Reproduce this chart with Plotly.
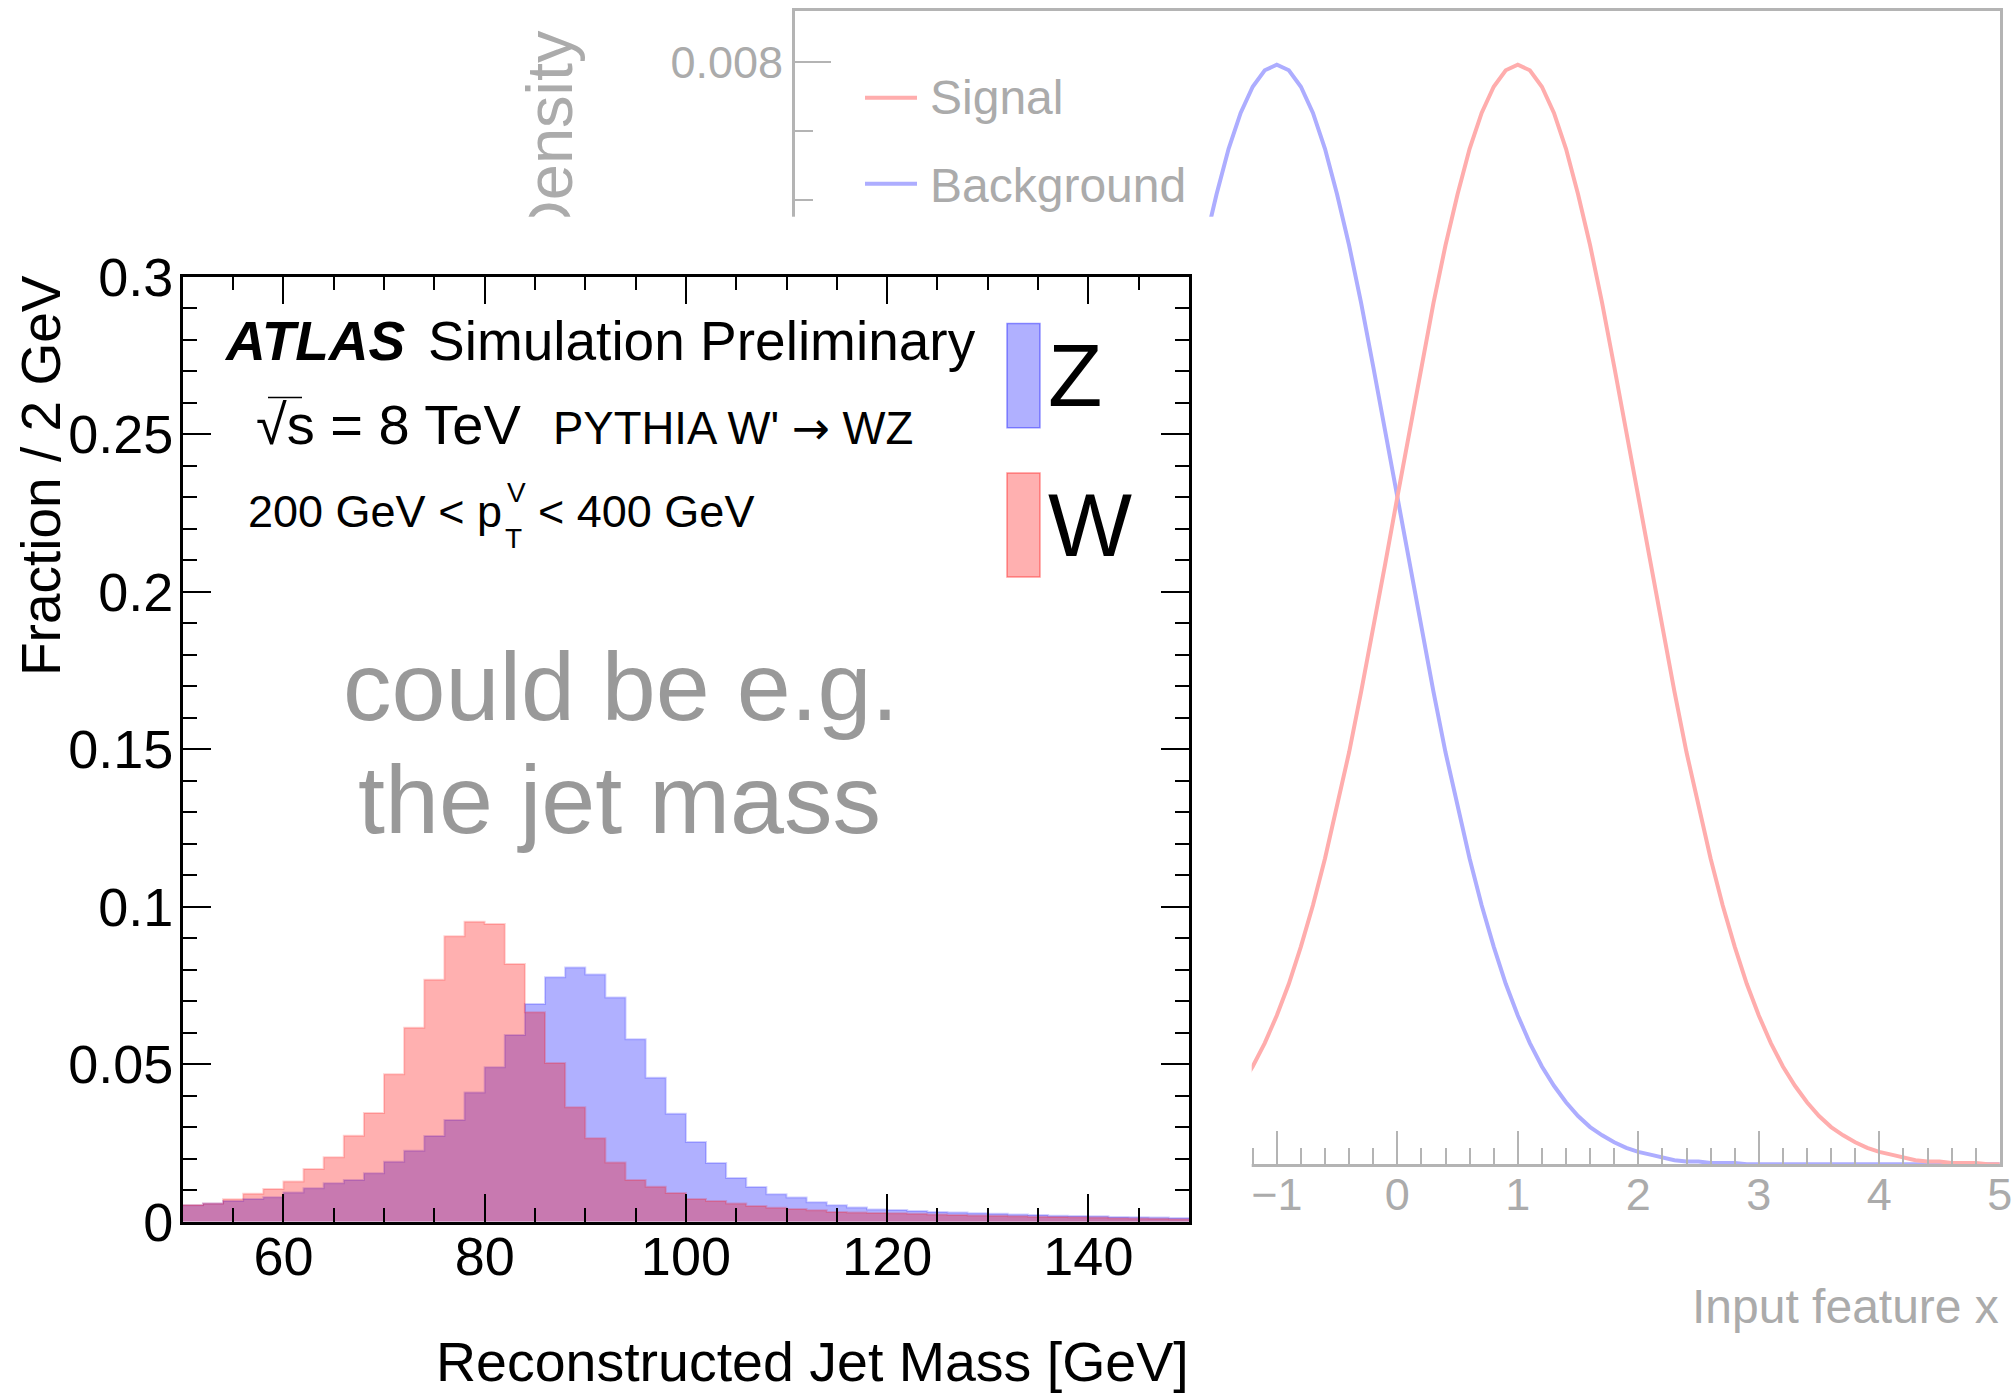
import plotly.graph_objects as go

W_PX, H_PX = 2014, 1393
FONT = "Liberation Sans, Arial, Helvetica, sans-serif"
GRAY_TXT = "#ababab"
GRAY_AX = "#b4b4b4"

# ---------------- left chart data: jet mass, 2 GeV bins from 50 to 150 ----------------
mass_bin_edges = list(range(50, 152, 2))
frac_W = [0.0053, 0.0058, 0.0071, 0.0089, 0.0104, 0.0128, 0.0167, 0.0205, 0.0273, 0.0345,
          0.0468, 0.0616, 0.0768, 0.0906, 0.0952, 0.0945, 0.0818, 0.0665, 0.0504, 0.0363,
          0.0265, 0.0188, 0.0132, 0.0111, 0.0091, 0.0072, 0.0066, 0.0058, 0.0050, 0.0044,
          0.0040, 0.0036, 0.0031, 0.0029, 0.0028, 0.0027, 0.0025, 0.0023, 0.0021, 0.0020,
          0.0019, 0.0017, 0.0016, 0.0015, 0.0014, 0.0013, 0.0011, 0.0010, 0.0009, 0.0008]
frac_Z = [0.0052, 0.0058, 0.0066, 0.0072, 0.0078, 0.0093, 0.0106, 0.0122, 0.0132, 0.0154,
          0.0190, 0.0225, 0.0272, 0.0323, 0.0410, 0.0490, 0.0593, 0.0691, 0.0776, 0.0807,
          0.0785, 0.0712, 0.0579, 0.0457, 0.0343, 0.0253, 0.0186, 0.0139, 0.0110, 0.0087,
          0.0077, 0.0062, 0.0052, 0.0045, 0.0039, 0.0037, 0.0034, 0.0031, 0.0029, 0.0027,
          0.0025, 0.0023, 0.0021, 0.0019, 0.0018, 0.0017, 0.0015, 0.0014, 0.0013, 0.0012]

# ---------------- right (background) chart data: density vs input feature ----------------
x_feature = [-2.0, -1.9, -1.8, -1.7, -1.6, -1.5, -1.4, -1.3, -1.2, -1.1,
             -1.0, -0.9, -0.8, -0.7, -0.6, -0.5, -0.4, -0.3, -0.2, -0.1,
             0.0, 0.1, 0.2, 0.3, 0.4, 0.5, 0.6, 0.7, 0.8, 0.9,
             1.0, 1.1, 1.2, 1.3, 1.4, 1.5, 1.6, 1.7, 1.8, 1.9,
             2.0, 2.1, 2.2, 2.3, 2.4, 2.5, 2.6, 2.7, 2.8, 2.9,
             3.0, 3.1, 3.2, 3.3, 3.4, 3.5, 3.6, 3.7, 3.8, 3.9,
             4.0, 4.1, 4.2, 4.3, 4.4, 4.5, 4.6, 4.7, 4.8, 4.9, 5.0]
background_density = [0.00484, 0.00532, 0.00579, 0.00625, 0.00667, 0.00704, 0.00737, 0.00763, 0.00782, 0.00794,
                      0.00798, 0.00794, 0.00782, 0.00763, 0.00737, 0.00704, 0.00667, 0.00625, 0.00579, 0.00532,
                      0.00484, 0.00436, 0.00388, 0.00343, 0.00299, 0.00259, 0.00222, 0.00188, 0.00158, 0.00131,
                      0.00108, 0.00088, 0.00071, 0.00057, 0.00045, 0.00035, 0.00027, 0.00021, 0.00016, 0.00012,
                      0.00009, 0.00007, 0.00005, 0.00003, 0.00002, 0.00002, 0.00001, 0.00001, 0.00001, 0.0,
                      0.0, 0.0, 0.0, 0.0, 0.0, 0.0, 0.0, 0.0, 0.0, 0.0,
                      0.0, 0.0, 0.0, 0.0, 0.0, 0.0, 0.0, 0.0, 0.0, 0.0, 0.0]
signal_density = [0.00009, 0.00012, 0.00016, 0.00021, 0.00027, 0.00035, 0.00045, 0.00057, 0.00071, 0.00088,
                  0.00108, 0.00131, 0.00158, 0.00188, 0.00222, 0.00259, 0.00299, 0.00343, 0.00388, 0.00436,
                  0.00484, 0.00532, 0.00579, 0.00625, 0.00667, 0.00704, 0.00737, 0.00763, 0.00782, 0.00794,
                  0.00798, 0.00794, 0.00782, 0.00763, 0.00737, 0.00704, 0.00667, 0.00625, 0.00579, 0.00532,
                  0.00484, 0.00436, 0.00388, 0.00343, 0.00299, 0.00259, 0.00222, 0.00188, 0.00158, 0.00131,
                  0.00108, 0.00088, 0.00071, 0.00057, 0.00045, 0.00035, 0.00027, 0.00021, 0.00016, 0.00012,
                  0.00009, 0.00007, 0.00005, 0.00003, 0.00002, 0.00002, 0.00001, 0.00001, 0.00001, 0.0, 0.0]
density_title = ["Density"]


def px(x):
    return x / W_PX


def py(y):
    return 1 - y / H_PX


fig = go.Figure()

# right (faded) chart on xy
fig.add_trace(go.Scatter(x=x_feature, y=background_density, mode="lines",
                         line=dict(color="#adadff", width=4), xaxis="x", yaxis="y",
                         hoverinfo="skip", showlegend=False))
fig.add_trace(go.Scatter(x=x_feature, y=signal_density, mode="lines",
                         line=dict(color="#ffadad", width=4), xaxis="x", yaxis="y",
                         hoverinfo="skip", showlegend=False))
# helper axis carrying the right chart's y title (so the overlaid canvas can hide part of it)
fig.add_trace(go.Scatter(x=[None], y=[None], xaxis="x", yaxis="y4",
                         hoverinfo="skip", showlegend=False))

# cover subplot (white canvas of the overlaid picture)
fig.add_trace(go.Scatter(x=[None], y=[None], xaxis="x2", yaxis="y2",
                         hoverinfo="skip", showlegend=False))

# left chart histograms on x3y3
fig.add_trace(go.Scatter(x=mass_bin_edges, y=frac_Z + [frac_Z[-1]], mode="lines",
                         line=dict(shape="hv", color="rgba(0,0,255,0.18)", width=2),
                         fill="tozeroy", fillcolor="rgba(0,0,255,0.31)",
                         xaxis="x3", yaxis="y3", hoverinfo="skip", showlegend=False))
fig.add_trace(go.Scatter(x=mass_bin_edges, y=frac_W + [frac_W[-1]], mode="lines",
                         line=dict(shape="hv", color="rgba(255,0,0,0.18)", width=2),
                         fill="tozeroy", fillcolor="rgba(255,0,0,0.31)",
                         xaxis="x3", yaxis="y3", hoverinfo="skip", showlegend=False))

gray_tick = dict(family=FONT, size=45, color=GRAY_TXT)
black_tick = dict(family=FONT, size=54, color="black")

Y_TOP, Y_BOT = 11.0, 1164.3
density_pos = (Y_BOT - 148.5) / (Y_BOT - Y_TOP)

layout = dict(
    width=W_PX, height=H_PX, autosize=False,
    margin=dict(l=0, r=0, t=0, b=0, pad=0, autoexpand=False),
    paper_bgcolor="white", plot_bgcolor="white",
    showlegend=False,
    font=dict(family=FONT),
    xaxis=dict(domain=[px(794.8), px(1999.8)], range=[-5, 5], anchor="y", automargin=False,
               showline=True, linecolor=GRAY_AX, linewidth=2.5, mirror=True,
               ticks="inside", ticklen=34, tickwidth=2, tickcolor=GRAY_AX,
               tick0=0, dtick=1, showgrid=False, zeroline=False, tickfont=gray_tick,
               ticklabelstandoff=-11,
               minor=dict(dtick=0.2, ticklen=17, tickwidth=2, tickcolor=GRAY_AX,
                          ticks="inside", showgrid=False)),
    yaxis=dict(domain=[py(Y_BOT), py(Y_TOP)], range=[0, 0.00837], anchor="x", automargin=False,
               showline=True, linecolor=GRAY_AX, linewidth=2.5, mirror=True,
               ticks="inside", ticklen=36, tickwidth=2, tickcolor=GRAY_AX,
               tick0=0, dtick=0.002, tickformat=".3~f", showgrid=False, zeroline=False,
               tickfont=gray_tick, ticklabelstandoff=0,
               minor=dict(dtick=0.0005, ticklen=18, tickwidth=2, tickcolor=GRAY_AX,
                          ticks="inside", showgrid=False)),
    yaxis4=dict(overlaying="y", anchor="free", position=px(585), side="left", range=[0, 1],
                automargin=False, showline=False, ticks="", showgrid=False, zeroline=False,
                tickmode="array", tickvals=[density_pos], ticktext=density_title, tickangle=-90,
                tickfont=dict(family=FONT, size=65, color=GRAY_TXT)),
    xaxis2=dict(domain=[0, px(1251.7)], range=[0, 1], anchor="y2", visible=False, automargin=False),
    yaxis2=dict(domain=[0, py(216.7)], range=[0, 1], anchor="x2", visible=False, automargin=False),
    xaxis3=dict(domain=[px(182.8), px(1189)], range=[50, 150], anchor="y3", automargin=False,
                showline=True, linecolor="black", linewidth=2.5, mirror="allticks",
                ticks="inside", ticklen=28, tickwidth=2, tickcolor="black",
                tick0=0, dtick=20, showgrid=False, zeroline=False, tickfont=black_tick,
                ticklabelstandoff=-14,
                minor=dict(dtick=5, ticklen=14, tickwidth=2, tickcolor="black",
                           ticks="inside", showgrid=False)),
    yaxis3=dict(domain=[py(1221.7), py(276.7)], range=[0, 0.3], anchor="x3", automargin=False,
                showline=True, linecolor="black", linewidth=2.5, mirror="allticks",
                ticks="inside", ticklen=28, tickwidth=2, tickcolor="black",
                tick0=0, dtick=0.05, showgrid=False, zeroline=False, tickfont=black_tick,
                ticklabelstandoff=-4,
                minor=dict(dtick=0.01, ticklen=14, tickwidth=2, tickcolor="black",
                           ticks="inside", showgrid=False)),
)
fig.update_layout(**layout)


def ann(text, x, y, size, color="black", xanchor="left", yanchor="middle", angle=0):
    fig.add_annotation(text=text, x=px(x), y=py(y), xref="paper", yref="paper",
                       showarrow=False, xanchor=xanchor, yanchor=yanchor,
                       textangle=angle, font=dict(family=FONT, size=size, color=color))


# right chart texts
ann("Signal", 928, 97.7, 48, GRAY_TXT)
ann("Background", 928, 185, 48, GRAY_TXT)
ann("Input feature x", 2001, 1306.7, 48, GRAY_TXT, xanchor="right")

# left chart texts
ann("Fraction / 2 GeV", 41, 476, 55, xanchor="center", angle=-90)
ann("Reconstructed Jet Mass [GeV]", 1191, 1362, 55.5, xanchor="right")
ann("<b><i>ATLAS</i></b>", 221.7, 341, 55)
ann("Simulation Preliminary", 426, 341, 55)
ann("√s = 8 TeV", 254, 424, 56)
ann("PYTHIA W' <span style='font-family:DejaVu Sans'>→</span> WZ", 550.7, 428, 45.5)
ann("200 GeV < p", 245.7, 511.7, 45)
ann("V", 505, 493, 28)
ann("T", 503, 538, 28)
ann("< 400 GeV", 535.7, 511.7, 45)
ann("could be e.g.", 620, 686, 97, "#999999", xanchor="center")
ann("the jet mass", 619, 799, 97, "#999999", xanchor="center")
ann("Z", 1046, 375, 89)
ann("W", 1046, 525, 89)

shapes = [
    # legend boxes of the left chart
    dict(type="rect", xref="paper", yref="paper", x0=px(1007), x1=px(1040), y0=py(427.7), y1=py(323.5),
         fillcolor="rgba(0,0,255,0.31)", line=dict(color="rgba(0,0,255,0.4)", width=1.5), layer="above"),
    dict(type="rect", xref="paper", yref="paper", x0=px(1007), x1=px(1040), y0=py(577), y1=py(473),
         fillcolor="rgba(255,0,0,0.31)", line=dict(color="rgba(255,0,0,0.4)", width=1.5), layer="above"),
    # overbar of the square root
    dict(type="line", xref="paper", yref="paper", x0=px(268), x1=px(302), y0=py(397.5), y1=py(397.5),
         line=dict(color="black", width=1.5), layer="above"),
    # legend lines of the right chart
    dict(type="line", xref="paper", yref="paper", x0=px(865), x1=px(917), y0=py(97.7), y1=py(97.7),
         line=dict(color="#ffadad", width=4), layer="above"),
    dict(type="line", xref="paper", yref="paper", x0=px(865), x1=px(917), y0=py(183.7), y1=py(183.7),
         line=dict(color="#adadff", width=4), layer="above"),
]
fig.update_layout(shapes=shapes)

fig.write_html("out.html",
               config={"displayModeBar": False},
               post_script="document.body.style.margin='0';document.body.style.padding='0';"
                           "document.body.style.overflow='hidden';")
